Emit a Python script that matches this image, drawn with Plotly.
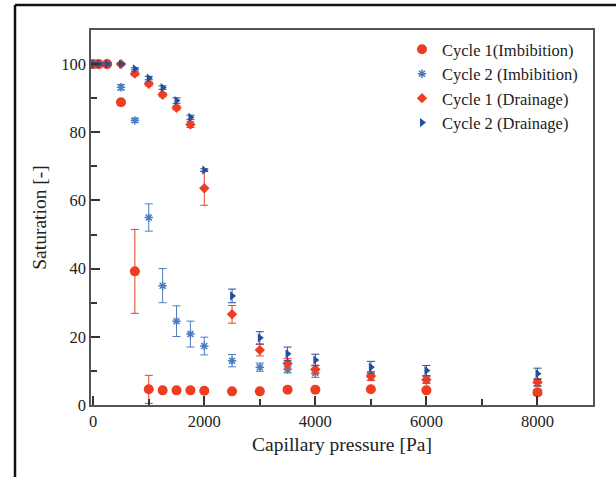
import plotly.graph_objects as go

# Cycle 1 (Imbibition)
c1i_x = [0, 100, 250, 500, 750, 1000, 1250, 1500, 1750, 2000, 2500, 3000, 3500, 4000, 5000, 6000, 8000]
c1i_y = [100, 100, 100, 88.8, 39.2, 4.6, 4.3, 4.3, 4.3, 4.2, 4.0, 4.0, 4.5, 4.5, 4.6, 4.3, 3.7]
c1i_e = [0.3, 0.3, 0.3, 0.8, 12.3, 4.1, 0.3, 0.3, 0.3, 0.3, 0.3, 0.3, 0.4, 0.4, 0.5, 0.6, 0.9]

# Cycle 2 (Imbibition)
c2i_x = [0, 100, 250, 500, 750, 1000, 1250, 1500, 1750, 2000, 2500, 3000, 3500, 4000, 5000, 6000, 8000]
c2i_y = [100, 100, 100, 93.2, 83.5, 55.0, 35.0, 24.6, 20.8, 17.3, 13.0, 11.1, 10.4, 9.4, 8.2, 7.5, 6.4]
c2i_e = [0.3, 0.3, 0.3, 0.8, 0.6, 4.0, 5.0, 4.5, 3.8, 2.6, 1.8, 1.2, 1.0, 1.3, 1.0, 1.0, 1.0]

# Cycle 1 (Drainage)
c1d_x = [0, 100, 250, 500, 750, 1000, 1250, 1500, 1750, 2000, 2500, 3000, 3500, 4000, 5000, 6000, 8000]
c1d_y = [100, 100, 100, 100, 97.2, 94.2, 91.0, 87.2, 82.3, 63.6, 26.6, 16.1, 12.2, 10.4, 8.5, 7.4, 6.7]
c1d_e = [0.3, 0.3, 0.3, 0.3, 0.6, 0.6, 0.6, 0.6, 0.9, 5.0, 2.6, 1.7, 1.4, 1.3, 1.3, 1.1, 1.0]

# Cycle 2 (Drainage)
c2d_x = [0, 100, 250, 500, 750, 1000, 1250, 1500, 1750, 2000, 2500, 3000, 3500, 4000, 5000, 6000, 8000]
c2d_y = [100, 100, 100, 100, 98.6, 95.9, 93.1, 89.3, 84.4, 68.9, 32.0, 19.7, 15.0, 13.2, 11.1, 10.1, 9.2]
c2d_e = [0.3, 0.3, 0.3, 0.3, 0.3, 0.5, 0.5, 0.8, 0.6, 0.4, 2.0, 1.8, 2.0, 1.7, 1.7, 1.5, 1.6]

x_ticks = [0, 2000, 4000, 6000, 8000]
y_ticks = [0, 20, 40, 60, 80, 100]

RED = "#ef3d22"
BLUE = "#22509e"
LBLUE = "#4a7cc0"
FONT = "Liberation Serif"

fig = go.Figure()

def add(x, y, e, name, color, symbol, size, ecolor, line=None):
    marker = dict(color=color, symbol=symbol, size=size)
    if line:
        marker["line"] = line
    else:
        marker["line"] = dict(width=0)
    fig.add_trace(go.Scatter(
        x=x, y=y, mode="markers", name=name, marker=marker,
        error_y=dict(type="data", array=e, visible=True, color=ecolor, thickness=1, width=4),
    ))

add(c1i_x, c1i_y, c1i_e, "Cycle 1(Imbibition)", RED, "circle", 10, RED)
add(c2i_x, c2i_y, c2i_e, "Cycle 2 (Imbibition)", LBLUE, "asterisk-open", 7, LBLUE,
    line=dict(color=LBLUE, width=1.5))
add(c1d_x, c1d_y, c1d_e, "Cycle 1 (Drainage)", RED, "diamond", 8, RED)
add(c2d_x, c2d_y, c2d_e, "Cycle 2 (Drainage)", BLUE, "triangle-right", 8, BLUE)

axis_common = dict(
    showline=True, linecolor="#555555", linewidth=1.5, mirror=True,
    showgrid=False, zeroline=False,
    ticks="inside", ticklen=9, tickwidth=1.8, tickcolor="#333333",
    tickfont=dict(family=FONT, size=16.5, color="#222222"),
)

fig.update_xaxes(
    range=[-40, 9000], tickvals=x_ticks, ticktext=[str(v) for v in x_ticks],
    minor=dict(ticks="inside", ticklen=6, tickwidth=1.8, tickcolor="#333333", dtick=1000, tick0=0),
    title=dict(text="Capillary pressure [Pa]", font=dict(family=FONT, size=19.5, color="#222222"), standoff=8),
    **axis_common,
)
fig.update_yaxes(
    range=[0, 110], tickvals=y_ticks, ticktext=[str(v) for v in y_ticks],
    minor=dict(ticks="inside", ticklen=6, tickwidth=1.8, tickcolor="#333333", dtick=10, tick0=0),
    title=dict(text="Saturation [-]", font=dict(family=FONT, size=19.5, color="#222222"), standoff=9),
    **axis_common,
)

# outer frame
L, R, T, B = 91, 23, 30, 72
pw, ph = 616 - L - R, 477 - T - B
fx = (15 - L) / pw
fy = (477 - B - 5) / ph
fig.add_shape(type="line", xref="paper", yref="paper", x0=fx, x1=fx, y0=fy, y1=-0.3,
              line=dict(color="#111111", width=2.5))
fig.add_shape(type="line", xref="paper", yref="paper", x0=fx, x1=1.2, y0=fy, y1=fy,
              line=dict(color="#111111", width=2.5))

fig.update_layout(
    width=616, height=477,
    margin=dict(l=L, r=R, t=T, b=B),
    plot_bgcolor="white", paper_bgcolor="white",
    showlegend=True,
    legend=dict(x=(402 - L) / pw, y=(477 - B - 32) / ph, xanchor="left", yanchor="top",
                font=dict(family=FONT, size=16.5, color="#222222"),
                bgcolor="rgba(0,0,0,0)", itemwidth=30, tracegroupgap=0),
)

fig.write_html("out.html")
